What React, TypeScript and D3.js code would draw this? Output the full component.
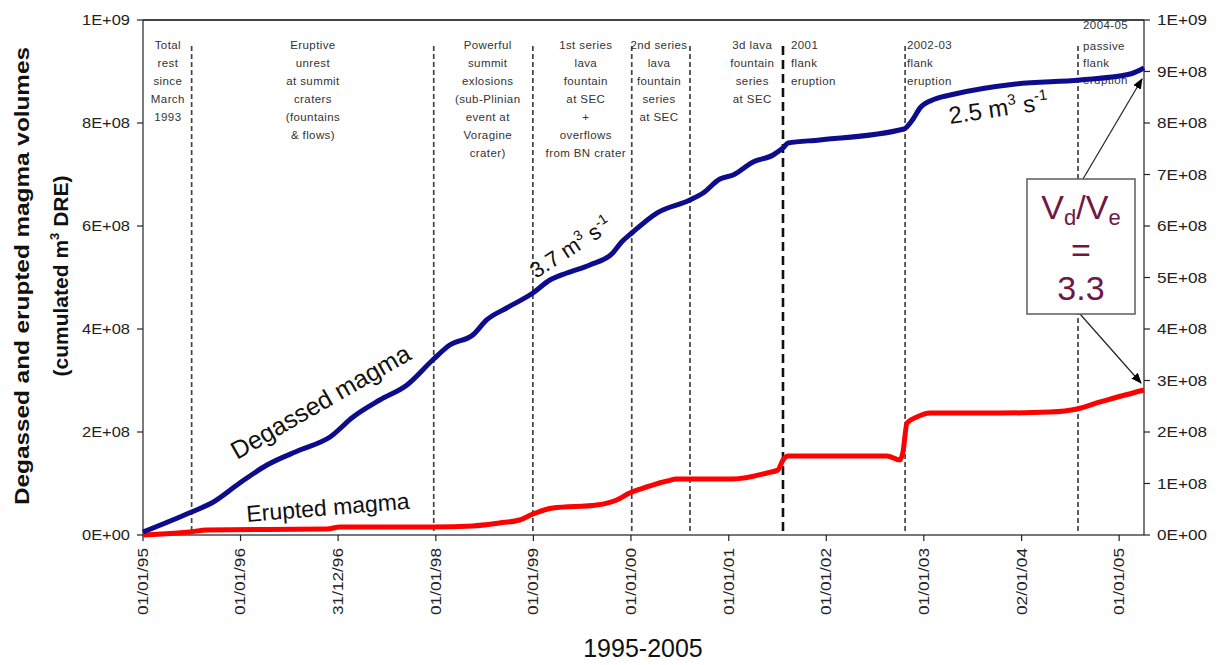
import React from "react";
import * as d3 from "d3";

// ---------- data ----------
const degassedDates = [
  "1995-01-01", "1995-07-02", "1995-09-15", "1995-12-29", "1996-04-09", "1996-08-10",
  "1996-12-01", "1997-02-25", "1997-06-05", "1997-09-15", "1997-12-20", "1998-02-22",
  "1998-05-19", "1998-07-10", "1998-09-23", "1998-12-30", "1999-03-04", "1999-05-06",
  "1999-07-31", "1999-10-25", "1999-11-27", "2000-01-04", "2000-04-07", "2000-08-09",
  "2000-09-27", "2000-11-29", "2001-01-17", "2001-04-02", "2001-06-16", "2001-07-23",
  "2001-08-11", "2001-12-08", "2002-10-19", "2002-11-14", "2002-12-21", "2003-02-12",
  "2003-04-27", "2003-12-11", "2004-08-08", "2005-02-11", "2005-04-04",
];
const degassedValues = [
  0.058e8, 0.447e8, 0.621e8, 1.01e8, 1.359e8, 1.65e8,
  1.903e8, 2.291e8, 2.621e8, 2.913e8, 3.398e8, 3.689e8,
  3.883e8, 4.175e8, 4.408e8, 4.699e8, 4.951e8, 5.087e8,
  5.243e8, 5.476e8, 5.689e8, 5.864e8, 6.252e8, 6.505e8,
  6.641e8, 6.913e8, 6.99e8, 7.243e8, 7.379e8, 7.515e8,
  7.612e8, 7.67e8, 7.883e8, 8.019e8, 8.311e8, 8.466e8,
  8.563e8, 8.757e8, 8.835e8, 8.951e8, 9.068e8,
];

const eruptedDates = [
  "1995-01-01", "1995-06-25", "1995-08-27", "1996-11-19", "1997-01-07", "1997-12-20",
  "1998-05-19", "1998-08-27", "1998-11-10", "1998-12-30", "1999-03-15", "1999-08-26",
  "1999-11-09", "1999-12-27", "2000-02-29", "2000-05-15", "2000-06-21", "2001-01-17",
  "2001-05-24", "2001-07-04", "2001-07-23", "2001-08-11", "2002-08-16", "2002-10-04",
  "2002-10-15", "2002-10-30", "2002-12-06", "2003-01-24", "2003-10-12", "2004-04-17",
  "2004-07-28", "2004-10-22", "2005-04-04",
];
const eruptedValues = [
  0.0, 0.058e8, 0.097e8, 0.117e8, 0.155e8, 0.155e8,
  0.175e8, 0.233e8, 0.291e8, 0.408e8, 0.524e8, 0.583e8,
  0.68e8, 0.816e8, 0.932e8, 1.049e8, 1.087e8, 1.087e8,
  1.204e8, 1.262e8, 1.456e8, 1.534e8, 1.534e8, 1.456e8,
  1.612e8, 2.175e8, 2.291e8, 2.369e8, 2.369e8, 2.388e8,
  2.447e8, 2.583e8, 2.816e8,
];

const xDomain = ["1995-01-01", "2005-04-04"];
const xTickDates = [
  "1995-01-01", "1996-01-01", "1996-12-31", "1998-01-01", "1999-01-01", "2000-01-01",
  "2001-01-01", "2002-01-01", "2003-01-01", "2004-01-02", "2005-01-01",
];
const xTickLabels = [
  "01/01/95", "01/01/96", "31/12/96", "01/01/98", "01/01/99", "01/01/00",
  "01/01/01", "01/01/02", "01/01/03", "02/01/04", "01/01/05",
];

const leftTicks = [0, 2e8, 4e8, 6e8, 8e8, 1e9];
const leftTickLabels = ["0E+00", "2E+08", "4E+08", "6E+08", "8E+08", "1E+09"];
const rightTicks = [0, 1e8, 2e8, 3e8, 4e8, 5e8, 6e8, 7e8, 8e8, 9e8, 1e9];
const rightTickLabels = [
  "0E+00", "1E+08", "2E+08", "3E+08", "4E+08", "5E+08", "6E+08", "7E+08", "8E+08", "9E+08", "1E+09",
];

// vertical dashed event lines
const eventDates = [
  "1995-07-02", "1997-12-24", "1998-12-30", "2000-01-04", "2000-08-09",
  "2001-07-23", "2002-10-23", "2004-07-31",
];
const eventBold = [false, false, false, false, false, true, false, false];

// period annotations
const periodDates = [
  "1995-04-04", "1996-09-28", "1998-07-14", "1999-07-16", "2000-04-15",
  "2001-03-30", "2001-08-22", "2002-10-30", "2004-08-19",
];
const periodLabels = [
  ["Total", "rest", "since", "March", "1993"],
  ["Eruptive", "unrest", "at summit", "craters", "(fountains", "& flows)"],
  ["Powerful", "summit", "exlosions", "(sub-Plinian", "event at", "Voragine", "crater)"],
  ["1st series", "lava", "fountain", "at SEC", "+", "overflows", "from BN crater"],
  ["2nd series", "lava", "fountain", "series", "at SEC"],
  ["3d lava", "fountain", "series", "at SEC"],
  ["2001", "flank", "eruption"],
  ["2002-03", "flank", "eruption"],
  ["2004-05", "passive", "flank", "eruption"],
];
const periodAlign = ["middle", "middle", "middle", "middle", "middle", "middle", "start", "start", "start"];

// ---------- layout ----------
const W = 1217;
const H = 665;
const M = { left: 143, right: 1144, top: 20, bottom: 535 };
const FONT = "'Liberation Sans', Arial, Helvetica, sans-serif";

export default function App() {
  const parse = d3.timeParse("%Y-%m-%d");
  const x = d3
    .scaleTime()
    .domain(xDomain.map((d) => parse(d) as Date))
    .range([M.left, M.right]);
  const y = d3.scaleLinear().domain([0, 1e9]).range([M.bottom, M.top]);

  const line = d3
    .line<[Date, number]>()
    .x((d) => x(d[0]))
    .y((d) => y(d[1]))
    .curve(d3.curveMonotoneX);

  const degassed: [Date, number][] = degassedDates.map((d, i) => [parse(d) as Date, degassedValues[i]]);
  const erupted: [Date, number][] = eruptedDates.map((d, i) => [parse(d) as Date, eruptedValues[i]]);

  const maroon = "#6e1846";

  return (
    <svg
      width={W}
      height={H}
      viewBox={`0 0 ${W} ${H}`}
      style={{ position: "absolute", left: 0, top: 0, background: "#fff", fontFamily: FONT }}
    >
      <defs>
        <marker id="arrow" viewBox="0 0 10 10" refX="9" refY="5" markerWidth="9" markerHeight="9" orient="auto">
          <path d="M0,1 L10,5 L0,9 z" fill="#000" />
        </marker>
      </defs>
      <rect x={0} y={0} width={W} height={H} fill="#fff" />

      {/* frame */}
      <line x1={M.left} x2={M.right} y1={M.top} y2={M.top} stroke="#444" strokeWidth={2} />
      <line x1={M.left} x2={M.right} y1={M.bottom} y2={M.bottom} stroke="#777" strokeWidth={2} />
      <line x1={M.left} x2={M.left} y1={M.top} y2={M.bottom} stroke="#222" strokeWidth={1.2} />
      <line x1={M.right} x2={M.right} y1={M.top} y2={M.bottom} stroke="#222" strokeWidth={1.2} />

      {/* left ticks */}
      {leftTicks.map((t, i) => (
        <g key={"lt" + i}>
          <line x1={M.left - 6} x2={M.left} y1={y(t)} y2={y(t)} stroke="#222" strokeWidth={1.2} />
          <text
            x={M.left - 13}
            y={y(t)}
            dy="0.35em"
            textAnchor="end"
            fontSize={15}
            fill="#222"
            textLength={48}
            lengthAdjust="spacingAndGlyphs"
          >
            {leftTickLabels[i]}
          </text>
        </g>
      ))}

      {/* right ticks */}
      {rightTicks.map((t, i) => (
        <g key={"rt" + i}>
          <line x1={M.right} x2={M.right + 6} y1={y(t)} y2={y(t)} stroke="#222" strokeWidth={1.2} />
          <text
            x={M.right + 13}
            y={y(t)}
            dy="0.35em"
            textAnchor="start"
            fontSize={15}
            fill="#222"
            textLength={50}
            lengthAdjust="spacingAndGlyphs"
          >
            {rightTickLabels[i]}
          </text>
        </g>
      ))}

      {/* x ticks */}
      {xTickDates.map((d, i) => {
        const xx = x(parse(d) as Date);
        return (
          <g key={"xt" + i}>
            <line x1={xx} x2={xx} y1={M.bottom} y2={M.bottom + 6} stroke="#222" strokeWidth={1.2} />
            <text
              transform={`translate(${xx},${M.bottom + 13}) rotate(-90)`}
              dy="0.35em"
              textAnchor="end"
              fontSize={14}
              fill="#222"
              textLength={67}
              lengthAdjust="spacingAndGlyphs"
            >
              {xTickLabels[i]}
            </text>
          </g>
        );
      })}

      {/* event dashed lines */}
      {eventDates.map((d, i) => {
        const xx = x(parse(d) as Date);
        return (
          <line
            key={"ev" + i}
            x1={xx}
            x2={xx}
            y1={46}
            y2={M.bottom - 2}
            stroke={eventBold[i] ? "#111" : "#444"}
            strokeWidth={eventBold[i] ? 2.6 : 1.7}
            strokeDasharray={eventBold[i] ? "9,5" : "5,3"}
          />
        );
      })}

      {/* period annotations */}
      {periodLabels.map((lines, i) => {
        const xx = x(parse(periodDates[i]) as Date);
        const top = i === 8 ? 29 : 49;
        return (
          <text
            key={"pl" + i}
            x={xx}
            y={top}
            textAnchor={periodAlign[i] as any}
            fontSize={11.5}
            fill="#333"
            letterSpacing={0.4}
          >
            {lines.map((l, j) => (
              <tspan key={j} x={xx} y={top + (i === 8 ? (j === 0 ? 0 : 4 + j * 17) : j * 18)}>
                {l}
              </tspan>
            ))}
          </text>
        );
      })}

      {/* data lines */}
      <path d={line(erupted) || ""} fill="none" stroke="#ff0000" strokeWidth={5} strokeLinejoin="round" />
      <path d={line(degassed) || ""} fill="none" stroke="#0c0c8c" strokeWidth={5} strokeLinejoin="round" />

      {/* curve labels */}
      <text transform="translate(237,460) rotate(-30)" fontSize={25} fill="#111">
        Degassed magma
      </text>
      <text transform="translate(247,522) rotate(-4.7)" fontSize={23} fill="#111">
        Erupted magma
      </text>
      <text transform="translate(536,279) rotate(-33)" fontSize={22} fill="#111">
        3.7 m
        <tspan fontSize={14} dy={-9}>3</tspan>
        <tspan dy={9}> s</tspan>
        <tspan fontSize={14} dy={-9}>-1</tspan>
      </text>
      <text transform="translate(950,124) rotate(-8.5)" fontSize={24} fill="#111">
        2.5 m
        <tspan fontSize={15} dy={-10}>3</tspan>
        <tspan dy={10}> s</tspan>
        <tspan fontSize={15} dy={-10}>-1</tspan>
      </text>

      {/* ratio box and arrows */}
      <line x1={1083} y1={179} x2={1142} y2={79} stroke="#222" strokeWidth={1.2} markerEnd="url(#arrow)" />
      <line x1={1080} y1={314} x2={1141} y2={383} stroke="#222" strokeWidth={1.2} markerEnd="url(#arrow)" />
      <rect x={1027} y={179} width={108} height={135} fill="#fff" stroke="#666" strokeWidth={1.6} />
      <text x={1081} y={219} textAnchor="middle" fontSize={34} fill={maroon}>
        V<tspan fontSize={22} dy={6}>d</tspan>
        <tspan dy={-6}>/V</tspan>
        <tspan fontSize={22} dy={6}>e</tspan>
      </text>
      <text x={1081} y={262} textAnchor="middle" fontSize={34} fill={maroon}>
        =
      </text>
      <text x={1081} y={300} textAnchor="middle" fontSize={34} fill={maroon}>
        3.3
      </text>

      {/* axis titles */}
      <text
        transform="translate(29,276) rotate(-90)"
        textAnchor="middle"
        fontSize={21}
        fontWeight="bold"
        fill="#111"
        textLength={458}
        lengthAdjust="spacingAndGlyphs"
      >
        Degassed and erupted magma volumes
      </text>
      <text transform="translate(68,276) rotate(-90)" textAnchor="middle" fontSize={21} fontWeight="bold" fill="#111">
        (cumulated m<tspan fontSize={13} dy={-9}>3</tspan>
        <tspan dy={9}> DRE)</tspan>
      </text>
      <text x={643} y={657} textAnchor="middle" fontSize={25} fill="#111">
        1995-2005
      </text>
    </svg>
  );
}
